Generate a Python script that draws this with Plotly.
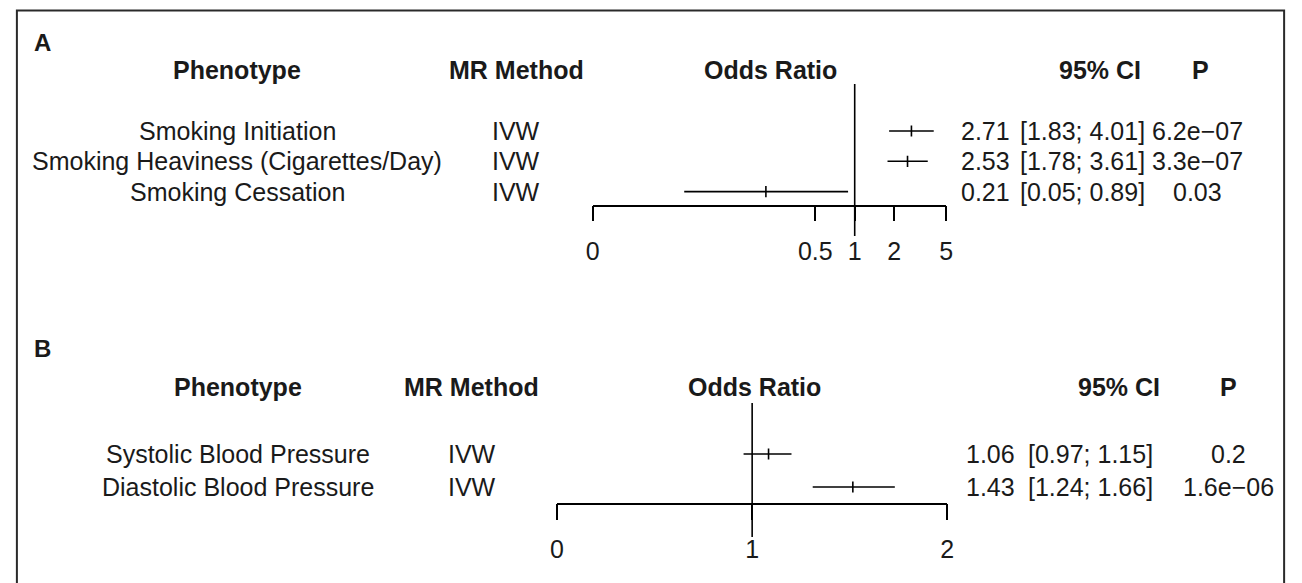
import math
import plotly.graph_objects as go

W, H = 1302, 583

# ---------------- data ----------------
a_pheno = ["Smoking Initiation", "Smoking Heaviness (Cigarettes/Day)", "Smoking Cessation"]
a_method = ["IVW", "IVW", "IVW"]
a_or = [2.71, 2.53, 0.21]
a_lo = [1.83, 1.78, 0.05]
a_hi = [4.01, 3.61, 0.89]
a_ci_txt = ["[1.83; 4.01]", "[1.78; 3.61]", "[0.05; 0.89]"]
a_p_txt = ["6.2e\u221207", "3.3e\u221207", "0.03"]
a_tickvals = [0.01, 0.5, 1, 2, 5]
a_ticktext = ["0", "0.5", "1", "2", "5"]

b_pheno = ["Systolic Blood Pressure", "Diastolic Blood Pressure"]
b_method = ["IVW", "IVW"]
b_or = [1.06, 1.43]
b_lo = [0.97, 1.24]
b_hi = [1.15, 1.66]
b_ci_txt = ["[0.97; 1.15]", "[1.24; 1.66]"]
b_p_txt = ["0.2", "1.6e\u221206"]
b_tickvals = [0.5, 1, 2]
b_ticktext = ["0", "1", "2"]

headers = ["Phenotype", "MR Method", "Odds Ratio", "95% CI", "P"]

# ---------------- layout helpers (pixel geometry) ----------------
FONT = "Liberation Sans, Arial, Helvetica, sans-serif"
FS = 25
TXT = "#1a1a1a"

def px(x):
    return x / W

def py(y):
    return 1 - y / H

def row_range(first_px, step_px, top_px, bot_px):
    r_bot = 1 + (bot_px - first_px) / step_px
    r_top = 1 + (top_px - first_px) / step_px
    return [r_bot, r_top]

panels = [
    dict(name="A", label_y=43, head_y=70, first=131, step=30.3, line_top=84, line_bot=236,
         axis_y=205.5, ticklen=15, standoff=9, x0=592, x1=949.5, xlim=(0.01, 5),
         pheno=a_pheno, method=a_method, est=a_or, lo=a_lo, hi=a_hi, ci=a_ci_txt, p=a_p_txt,
         tv=a_tickvals, tt=a_ticktext,
         col_pheno=233, col_method=515, col_or=772, ci_head_right=1148, p_head=1206,
         eff_left=962, ci_left=1022, p_center=1203),
    dict(name="B", label_y=348, head_y=387, first=454, step=33, line_top=403, line_bot=537,
         axis_y=503.5, ticklen=16, standoff=8, x0=556, x1=950.5, xlim=(0.5, 2),
         pheno=b_pheno, method=b_method, est=b_or, lo=b_lo, hi=b_hi, ci=b_ci_txt, p=b_p_txt,
         tv=b_tickvals, tt=b_ticktext,
         col_pheno=234, col_method=470, col_or=756, ci_head_right=1168, p_head=1235,
         eff_left=967, ci_left=1030, p_center=1235),
]

fig = go.Figure()
annotations = []
layout_axes = {}

for i, P in enumerate(panels):
    sfx = "" if i == 0 else str(i + 1)
    xa, ya = "x" + sfx, "y" + sfx
    n = len(P["est"])
    rows = list(range(1, n + 1))
    rtop = 1 + (P["line_top"] - P["first"]) / P["step"]
    rbot = 1 + (P["line_bot"] - P["first"]) / P["step"]

    # reference line at OR = 1
    fig.add_trace(go.Scatter(x=[1, 1], y=[rtop, rbot], mode="lines",
                             line=dict(color="black", width=1.6),
                             xaxis=xa, yaxis=ya, showlegend=False, hoverinfo="skip"))
    # CIs and point estimates
    fig.add_trace(go.Scatter(
        x=P["est"], y=rows, mode="markers",
        marker=dict(symbol="line-ns-open", size=8, line=dict(color="black", width=1.6), color="black"),
        error_x=dict(type="data", symmetric=False,
                     array=[h - e for h, e in zip(P["hi"], P["est"])],
                     arrayminus=[e - l for e, l in zip(P["est"], P["lo"])],
                     width=0, thickness=1.6, color="black"),
        xaxis=xa, yaxis=ya, showlegend=False, hoverinfo="skip"))

    layout_axes["xaxis" + sfx] = dict(
        type="log", range=[math.log10(P["xlim"][0]), math.log10(P["xlim"][1])],
        domain=[px(P["x0"]), px(P["x1"])], anchor="free", position=py(P["axis_y"]),
        showline=True, linecolor="black", linewidth=1.6, showgrid=False, zeroline=False,
        ticks="outside", ticklen=P["ticklen"], tickwidth=1.6, tickcolor="black",
        tickmode="array", tickvals=P["tv"], ticktext=P["tt"],
        tickfont=dict(family=FONT, size=FS, color=TXT), ticklabelstandoff=int(P["standoff"]),
        fixedrange=True,
    )
    layout_axes["yaxis" + sfx] = dict(
        domain=[py(P["line_bot"]), py(P["line_top"])],
        range=row_range(P["first"], P["step"], P["line_top"], P["line_bot"]),
        visible=False, fixedrange=True, anchor=xa,
    )

    # panel letter
    annotations.append(dict(text="<b>%s</b>" % P["name"], xref="paper", yref="paper",
                            x=px(25), y=py(P["label_y"]), xanchor="left", yanchor="middle",
                            showarrow=False, font=dict(family=FONT, size=24, color=TXT)))
    # headers
    hy = py(P["head_y"])
    for txt, xx, anc in [(headers[0], P["col_pheno"], "center"),
                         (headers[1], P["col_method"], "center"),
                         (headers[2], P["col_or"], "center"),
                         (headers[3], P["ci_head_right"], "right"),
                         (headers[4], P["p_head"], "center")]:
        annotations.append(dict(text="<b>%s</b>" % txt, xref="paper", yref="paper",
                                x=px(xx), y=hy, xanchor=anc, yanchor="middle",
                                showarrow=False, font=dict(family=FONT, size=FS, color=TXT)))
    # row texts
    for r in range(n):
        rr = rows[r]
        for txt, xx, anc in [(P["pheno"][r], P["col_pheno"], "center"),
                             (P["method"][r], P["col_method"], "center"),
                             ("%.2f" % P["est"][r], P["eff_left"], "left"),
                             (P["ci"][r], P["ci_left"], "left"),
                             (P["p"][r], P["p_center"], "center")]:
            annotations.append(dict(text=txt, xref="paper", yref=ya, x=px(xx), y=rr,
                                    xanchor=anc, yanchor="middle", showarrow=False,
                                    font=dict(family=FONT, size=FS, color=TXT)))

fig.update_layout(
    width=W, height=H, margin=dict(l=0, r=0, t=0, b=0),
    paper_bgcolor="white", plot_bgcolor="rgba(0,0,0,0)",
    annotations=annotations,
    shapes=[dict(type="rect", xref="paper", yref="paper",
                 x0=px(10), x1=px(1291), y0=-0.05, y1=py(10.5),
                 line=dict(color="#2a2a2a", width=2))],
    **layout_axes,
)

fig.write_html("out.html", config={"displayModeBar": False},
               post_script="document.body.style.margin='0px';document.body.style.overflow='hidden';")
